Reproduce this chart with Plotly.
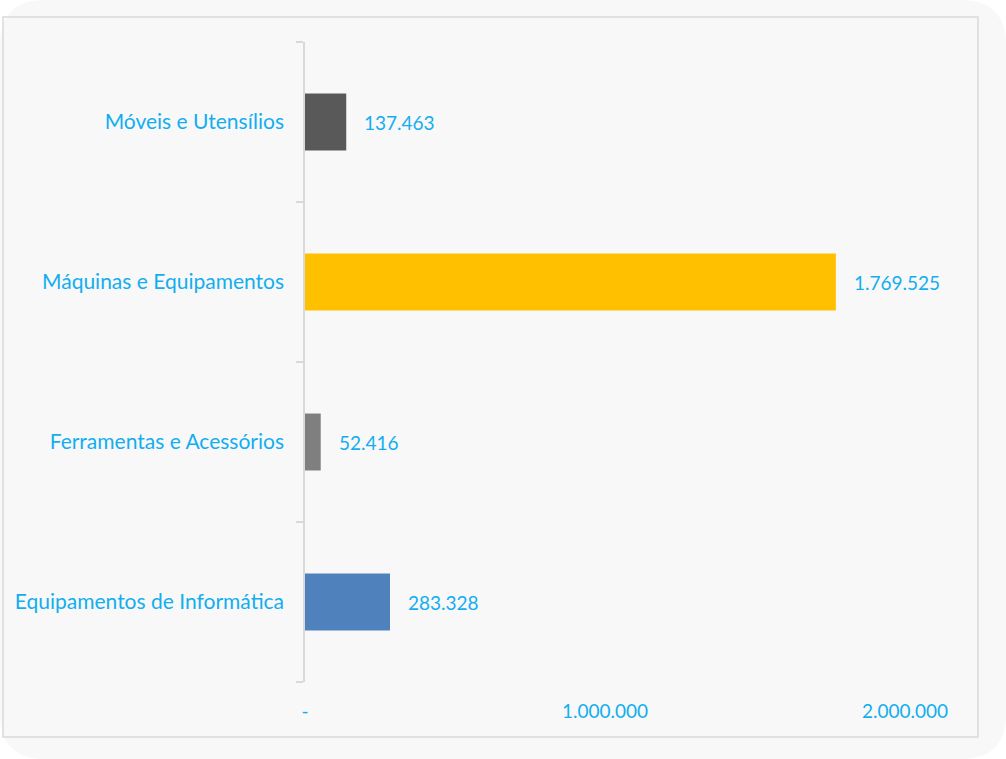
import plotly.graph_objects as go

categories = ["Equipamentos de Informática", "Ferramentas e Acessórios", "Máquinas e Equipamentos", "Móveis e Utensílios"]
values = [283328, 52416, 1769525, 137463]
labels = ["283.328", "52.416", "1.769.525", "137.463"]
colors = ["#4f81bd", "#7f7f7f", "#ffc000", "#595959"]
xtick_vals = [0, 1000000, 2000000]
xtick_text = ["-", "1.000.000", "2.000.000"]

W, H = 1006, 759
L, R, T, B = 305, 41, 42, 77
PW, PH = W - L - R, H - T - B
FONT = "Lato"
BLUE = "#12aef0"

def px(x):
    return (x - L) / PW

def py(y):
    return (H - B - y) / PH

fig = go.Figure()
fig.add_trace(go.Bar(
    y=categories, x=values, orientation="h",
    marker=dict(color=colors, line=dict(width=0)),
    width=0.356, hoverinfo="skip",
))

for c, v, t in zip(categories, values, labels):
    fig.add_annotation(x=v, y=c, text=t, showarrow=False, xanchor="left",
                       xshift=16, font=dict(family=FONT, size=19, color=BLUE))

# rounded outer background
r = 45
x0, y0, x1, y1 = 0, 0, W, H
path = (f"M {px(x0+r)},{py(y0)} L {px(x1-r)},{py(y0)} Q {px(x1)},{py(y0)} {px(x1)},{py(y0+r)} "
        f"L {px(x1)},{py(y1-r)} Q {px(x1)},{py(y1)} {px(x1-r)},{py(y1)} "
        f"L {px(x0+r)},{py(y1)} Q {px(x0)},{py(y1)} {px(x0)},{py(y1-r)} "
        f"L {px(x0)},{py(y0+r)} Q {px(x0)},{py(y0)} {px(x0+r)},{py(y0)} Z")
fig.add_shape(type="path", path=path, xref="paper", yref="paper",
              fillcolor="#f8f8f8", line=dict(width=0), layer="below")
fig.add_shape(type="rect", xref="paper", yref="paper",
              x0=px(3), x1=px(978), y0=py(737), y1=py(17),
              line=dict(color="#d9d9d9", width=1.5), fillcolor="rgba(0,0,0,0)", layer="below")

fig.update_layout(
    width=W, height=H,
    margin=dict(l=L, r=R, t=T, b=B, pad=0),
    paper_bgcolor="white", plot_bgcolor="rgba(0,0,0,0)",
    showlegend=False,
    font=dict(family=FONT, size=20, color=BLUE),
    xaxis=dict(range=[0, 2200000], tickvals=xtick_vals, ticktext=xtick_text,
               showgrid=False, zeroline=False, showline=False, ticks="",
               ticklabelstandoff=16, tickfont=dict(family=FONT, size=19, color=BLUE)),
    yaxis=dict(categoryorder="array", categoryarray=categories,
               showgrid=False, zeroline=False, showline=True, linecolor="#d9d9d9", linewidth=1.5,
               ticks="outside", tickson="boundaries", ticklen=7, tickcolor="#d9d9d9", tickwidth=1.5,
               ticklabelstandoff=15, tickfont=dict(family=FONT, size=21, color=BLUE)),
    bargap=0.644,
)

fig.write_html("out.html", config={"displayModeBar": False},
               post_script="document.body.style.margin='0';")
